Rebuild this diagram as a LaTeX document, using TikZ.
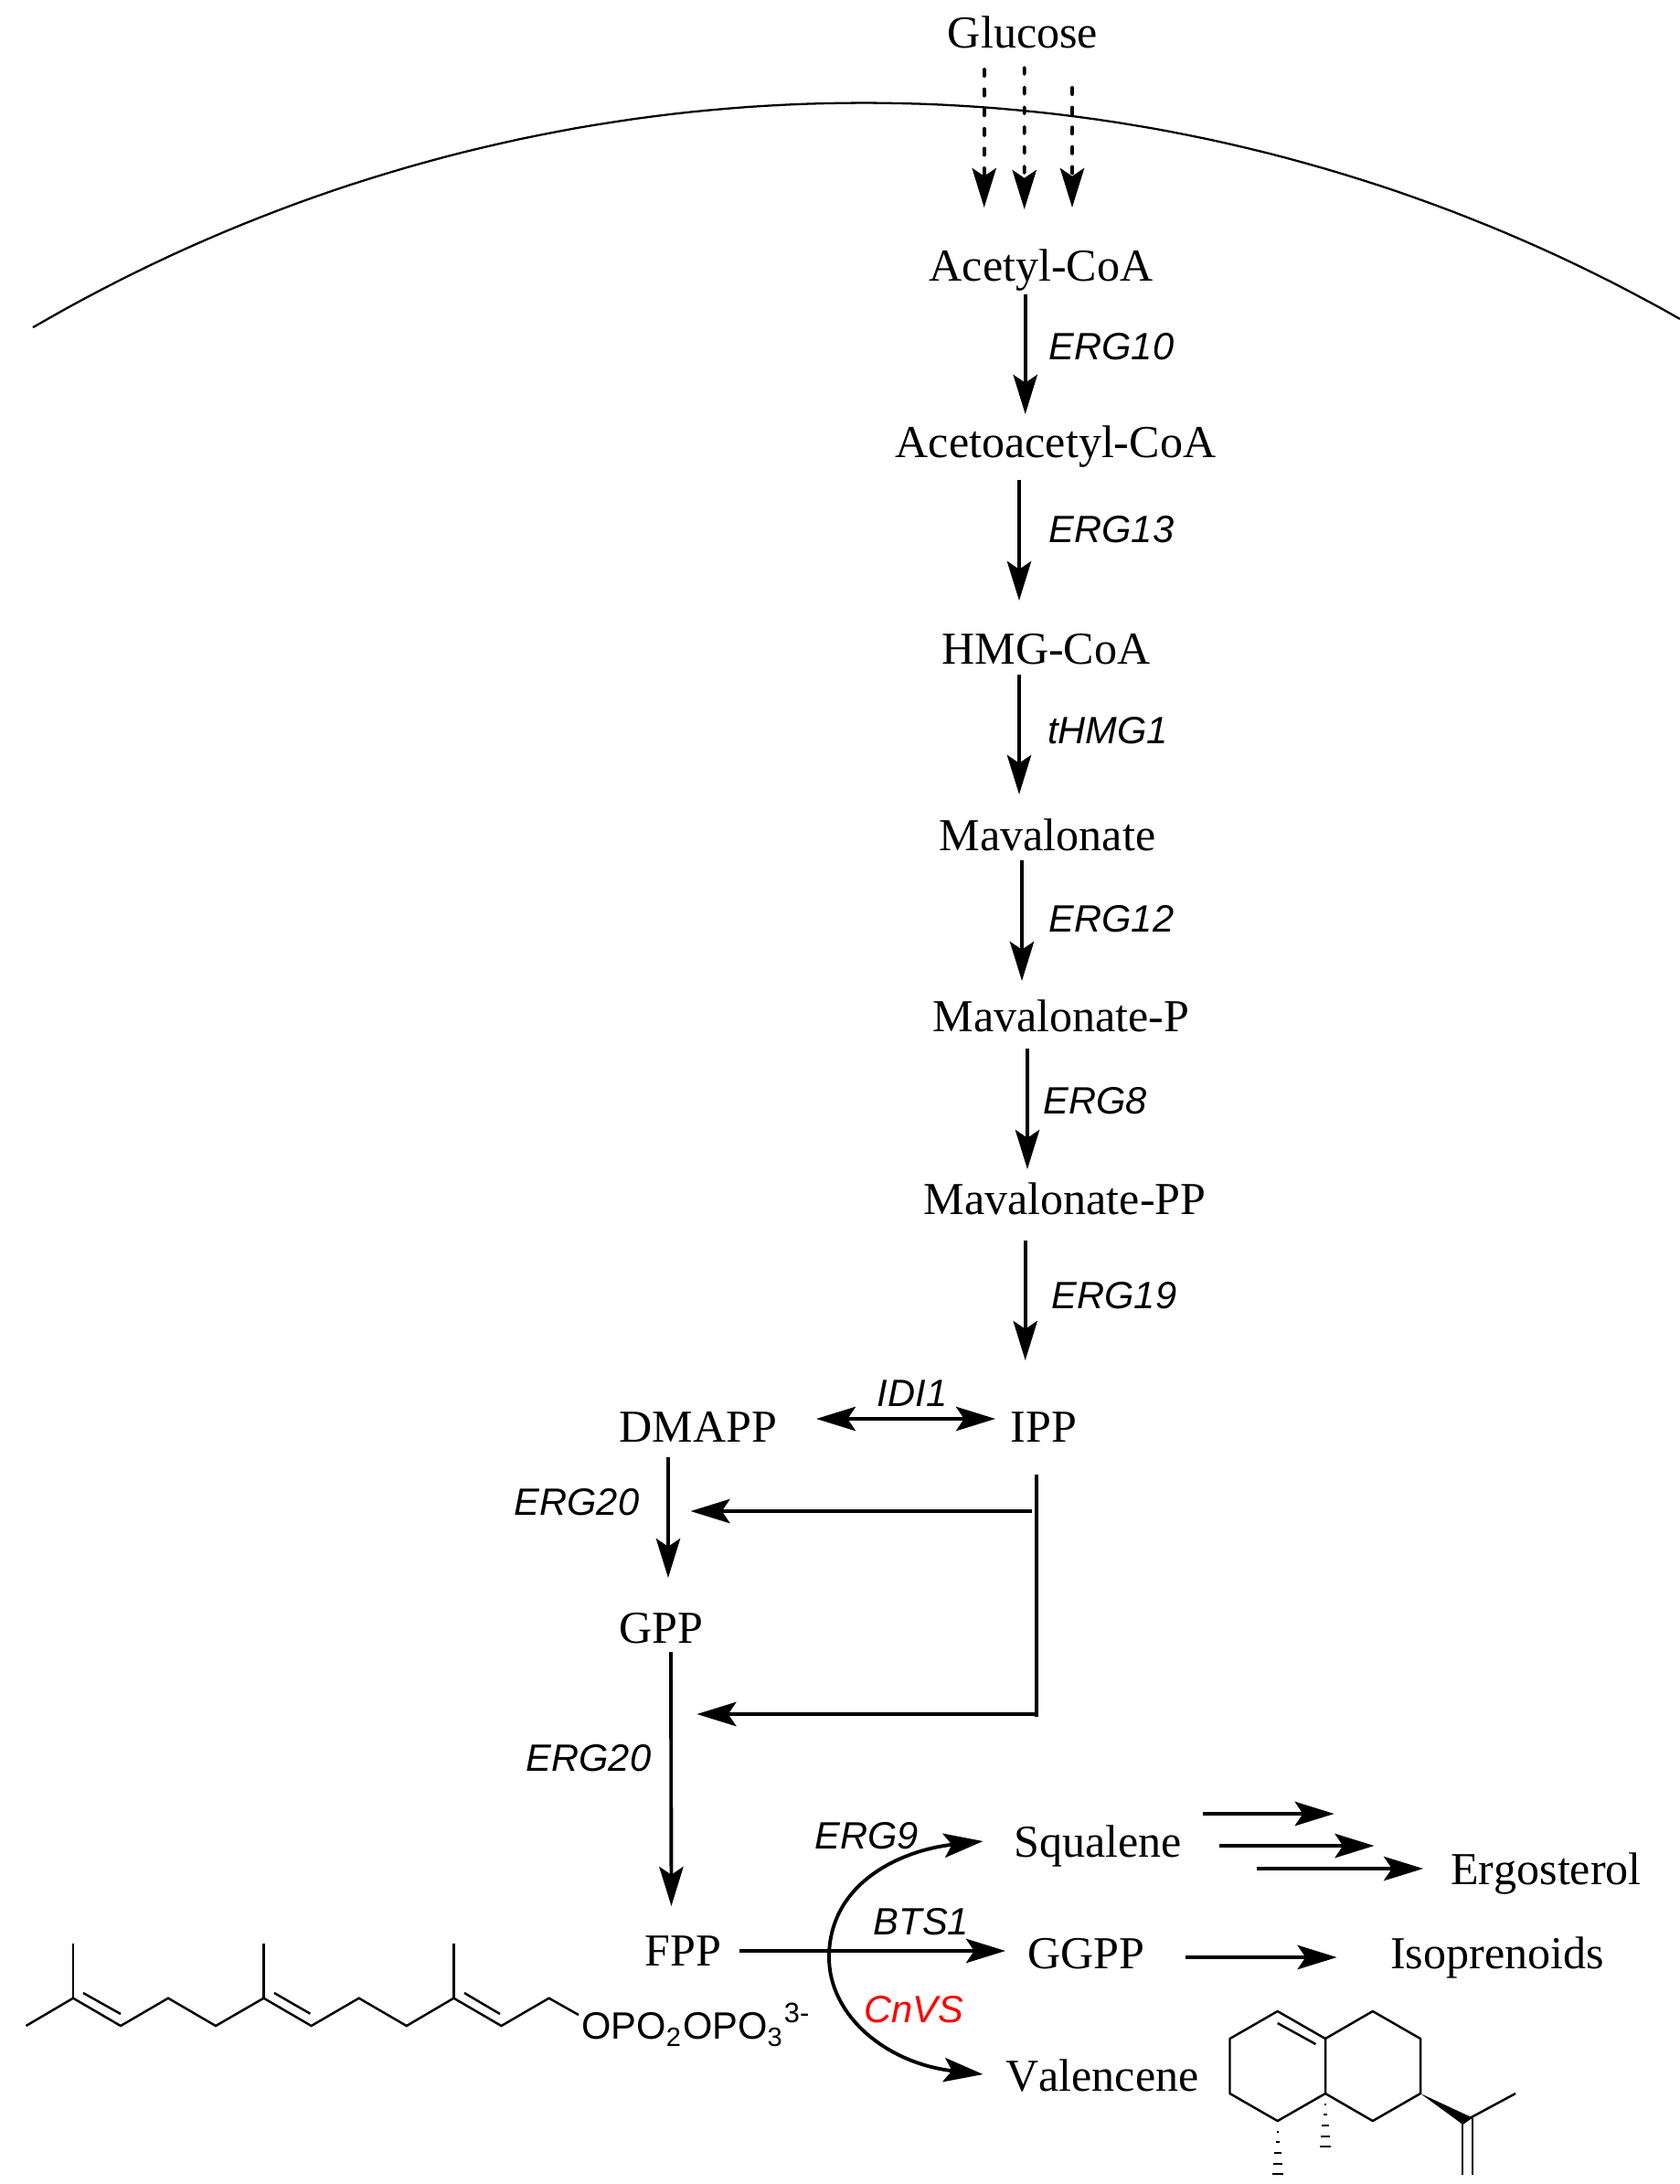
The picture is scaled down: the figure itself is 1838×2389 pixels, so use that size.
\documentclass[tikz,border=0pt]{standalone}
\usepackage{fontspec}
\setmainfont[Kerning=Off]{Liberation Serif}
\newfontfamily\lsans{Liberation Sans}
\usetikzlibrary{arrows.meta}
\tikzset{
  met/.style={anchor=base,inner sep=0pt,outer sep=0pt,font=\fontsize{28.5}{30}\selectfont},
  gene/.style={anchor=base,inner sep=0pt,outer sep=0pt,font=\lsans\itshape\fontsize{23.7}{26}\selectfont},
  arr/.style={line width=2.2pt,-{Stealth[length=24.5pt,width=15pt,inset=5pt]}},
  darr/.style={line width=2.2pt,{Stealth[length=24.5pt,width=15pt,inset=5pt]}-{Stealth[length=24.5pt,width=15pt,inset=5pt]}},
  dasharr/.style={arr,line cap=round,dash pattern=on 4pt off 8.3pt},
  plain/.style={line width=2.2pt},
  bond/.style={line width=1.4pt,line join=miter},
  hash/.style={line width=1.4pt}
}
\begin{document}
\begin{tikzpicture}[x=0.02cm,y=-0.02cm]
\useasboundingbox (0,0) rectangle (1838,2389);
% metabolites
\node[met] (glucose) at (1119,53) {Glucose};
\node[met] (acetyl) at (1139,308) {Acetyl-CoA};
\node[met] (aceto) at (1155,500) {Acetoacetyl-CoA};
\node[met] (hmg) at (1144.5,726.5) {HMG-CoA};
\node[met] (maval) at (1146,930) {Mavalonate};
\node[met] (mavalp) at (1161,1128) {Mavalonate-P};
\node[met] (mavalpp) at (1165,1328) {Mavalonate-PP};
\node[met] (ipp) at (1142,1577) {IPP};
\node[met] (dmapp) at (764,1577) {DMAPP};
\node[met] (gpp) at (723.5,1797) {GPP};
\node[met] (fpp) at (747.5,2150) {FPP};
\node[met] (squalene) at (1201,2031) {Squalene};
\node[met] (ggpp) at (1188,2153) {GGPP};
\node[met] (valencene) at (1206,2287) {Valencene};
\node[met] (ergosterol) at (1691.5,2061) {Ergosterol};
\node[met] (isoprenoids) at (1638,2153) {Isoprenoids};
% genes
\node[gene] (g10) at (1216,393.5) {ERG10};
\node[gene] (g13) at (1216,593.5) {ERG13};
\node[gene] (gthmg) at (1212,813) {tHMG1};
\node[gene] (g12) at (1216,1019.5) {ERG12};
\node[gene] (g8) at (1198,1218.5) {ERG8};
\node[gene] (g19) at (1219,1431.5) {ERG19};
\node[gene] (gidi) at (998,1538) {IDI1};
\node[gene] (g20a) at (631,1657.5) {ERG20};
\node[gene] (g20b) at (644,1937.5) {ERG20};
\node[gene] (g9) at (948,2022.5) {ERG9};
\node[gene] (gbts) at (1008,2116) {BTS1};
\node[gene,text=red] (gcnvs) at (999.5,2212.5) {CnVS};
% membrane
\draw[line width=1.3pt] plot[domain=-30.24:29.65,samples=90] ({945+1805*sin(\x)},{1917.5-1805*cos(\x)});
% dashed arrows
\draw[dasharr] ([shift={(-42.3,23)}]glucose.base) -- ([shift={(-62.3,-81)}]acetyl.base);
\draw[dasharr] ([shift={(1.7,21)}]glucose.base) -- ([shift={(-18.3,-79)}]acetyl.base);
\draw[dasharr] ([shift={(54,43)}]glucose.base) -- ([shift={(34,-81)}]acetyl.base);
% pathway
\draw[arr] ([shift={(-17.3,14)}]acetyl.base) -- ([shift={(-33.3,-47)}]aceto.base);
\draw[arr] ([shift={(-40,25)}]aceto.base) -- ([shift={(-29.5,-69.5)}]hmg.base);
\draw[arr] ([shift={(-29.5,11.5)}]hmg.base) -- ([shift={(-31,-61)}]maval.base);
\draw[arr] ([shift={(-28,11)}]maval.base) -- ([shift={(-43,-55)}]mavalp.base);
\draw[arr] ([shift={(-37,19)}]mavalp.base) -- ([shift={(-41,-49)}]mavalpp.base);
\draw[arr] ([shift={(-43.3,29)}]mavalpp.base) -- ([shift={(-20.3,-89)}]ipp.base);
\draw[darr] ([shift={(129,-25)}]dmapp.base) -- ([shift={(-53,-25)}]ipp.base);
\draw[arr] ([shift={(-33,17)}]dmapp.base) -- ([shift={(7.5,-71)}]gpp.base);
\draw[arr] ([shift={(10.5,10)}]gpp.base) -- ([shift={(-13,-65)}]fpp.base);
\draw[plain] ([shift={(-8,36)}]ipp.base) -- ([shift={(-8,301)}]ipp.base);
\draw[arr] ([shift={(-13,76)}]ipp.base) -- ([shift={(-8.5,76)}]dmapp.base);
\draw[arr] ([shift={(-10,298)}]ipp.base) -- ([shift={(38.9,78)}]gpp.base);
\draw[arr] ([shift={(61.5,-16)}]fpp.base) -- ([shift={(-88,-19)}]ggpp.base);
\draw[darr] ([shift={(-125.5,-17)}]squalene.base) .. controls (985,2024) and (907,2060) .. (907,2141) .. controls (907,2205) and (970,2257) .. ([shift={(-130.5,-18)}]valencene.base);
\draw[arr] ([shift={(114.6,-47)}]squalene.base) -- ([shift={(-231.8,-77)}]ergosterol.base);
\draw[arr] ([shift={(133,-12)}]squalene.base) -- ([shift={(-188,-42)}]ergosterol.base);
\draw[arr] ([shift={(173.7,13)}]squalene.base) -- ([shift={(-134.5,-17)}]ergosterol.base);
\draw[arr] ([shift={(109,-12)}]ggpp.base) -- ([shift={(-175.4,-12)}]isoprenoids.base);
% FPP structure
\draw[bond] (28.5,2216) -- (80,2185.7) -- (132,2216) -- (184,2185.7) -- (236,2216) -- (288.5,2185.7) -- (340.6,2216) -- (392.7,2185.7) -- (444.8,2216) -- (496.4,2185.7) -- (548.5,2216) -- (600.6,2185.7) -- (633,2204);
\draw[bond] (80,2126) -- (80,2185.7);
\draw[bond] (288.5,2126) -- (288.5,2185.7);
\draw[bond] (496.4,2126) -- (496.4,2185.7);
\draw[bond] (91,2180) -- (132,2203);
\draw[bond] (300,2180) -- (339.4,2202.7);
\draw[bond] (508,2180) -- (547,2203);
\node[anchor=base west,inner sep=0pt,font=\lsans\fontsize{23.7}{26}\selectfont] (opp) at (636,2230) {OPO\raisebox{-5pt}{\fontsize{16.5}{16}\selectfont 2}\kern1.2pt OPO\raisebox{-5pt}{\fontsize{16.5}{16}\selectfont 3}\kern1.2pt\raisebox{10pt}{\fontsize{17.5}{16}\selectfont 3-}};
% Valencene structure
\draw[bond,line join=round] (1450,2230) -- (1397.7,2200) -- (1345.5,2230) -- (1345.5,2290) -- (1397.7,2320) -- (1450,2290) -- (1450,2230) -- (1501.8,2200) -- (1554,2230) -- (1554,2290) -- (1501.8,2320) -- (1450,2290);
\draw[bond] (1397.7,2213) -- (1439.4,2236);
\fill (1554,2290) -- (1611,2316.5) -- (1600.5,2324) -- cycle;
\draw[bond] (1606,2318) -- (1658,2290);
\draw[bond] (1600,2322) -- (1600,2379);
\draw[bond] (1611,2317) -- (1611,2379);
\draw[hash] (1396.7,2332) -- +(2,0) (1395.7,2343) -- +(4,0) (1394,2355) -- +(7.5,0) (1392.7,2367) -- +(10,0) (1391.5,2378) -- +(12.5,0);
\draw[hash] (1449,2302) -- +(2,0) (1448,2313) -- +(4,0) (1446.2,2325) -- +(7.5,0) (1445,2337) -- +(10,0) (1443.7,2348) -- +(12.5,0);
\end{tikzpicture}
\end{document}
